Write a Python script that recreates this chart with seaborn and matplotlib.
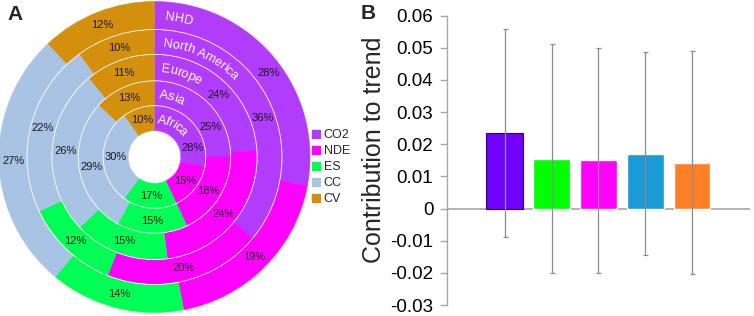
import numpy as np
import pandas as pd
import matplotlib
matplotlib.use('Agg')
import matplotlib.pyplot as plt
import seaborn as sns
from matplotlib.patches import Circle, Patch
from matplotlib.font_manager import FontProperties

# ---- Panel A: share of each driver (%), rings from inside out
regions = ['Africa', 'Asia', 'Europe', 'North America', 'NHD']
drivers = ['CO2', 'NDE', 'ES', 'CC', 'CV']
africa = [28, 15, 17, 30, 10]
asia = [25, 18, 15, 29, 13]
europe = [24, 24, 15, 26, 11]
north_america = [36, 20, 12, 22, 10]
nhd = [28, 19, 14, 27, 12]
donut_colors = ['#B23CFC', '#FF00FF', '#00FF55', '#A9C3E5', '#D4900C']

# ---- Panel B: contribution to trend with error bars
trend_names = ['CO2', 'ES', 'NDE', 'CC', 'CV']
trend_vals = [0.0235, 0.0155, 0.0150, 0.0171, 0.0142]
trend_err = [0.0324, 0.0356, 0.0349, 0.0315, 0.0347]
bar_colors = ['#7000FF', '#00FF00', '#FF00FF', '#1A9AD6', '#FF7F27']

sns.set_theme(style='white')
plt.rcParams['font.family'] = ['Liberation Sans', 'DejaVu Sans']

W, H = 754, 316
fig = plt.figure(figsize=(W / 100, H / 100), dpi=100)

# donut geometry in pixels
cx, cy, R = 154.5, 157, 155.5
ax1 = fig.add_axes([(cx - R) / W, (H - cy - R) / H, 2 * R / W, 2 * R / H])
radii = [0.17, 0.33, 0.49, 0.66, 0.82, 1.0]
rings = [africa, asia, europe, north_america, nhd]

for i, vals in enumerate(rings):
    wedges, _ = ax1.pie(vals, radius=radii[i + 1], colors=donut_colors,
                        startangle=90, counterclock=False,
                        wedgeprops=dict(width=radii[i + 1] - radii[i], linewidth=0.4))
    for w in wedges:
        w.set_edgecolor(w.get_facecolor())

for r in radii[1:-1]:
    ax1.add_patch(Circle((0, 0), r, fill=False, ec='white', lw=0.6, zorder=3))

ax1.set_xlim(-1, 1)
ax1.set_ylim(-1, 1)
ax1.axis('off')

# percentage labels
co2_frac = [0.76, 0.69, 0.53, 0.54, 0.53]
for i, vals in enumerate(rings):
    rm = (radii[i] + radii[i + 1]) / 2
    cum = 0
    for j, v in enumerate(vals):
        frac = co2_frac[i] if j == 0 else 0.5
        a = np.deg2rad(3.6 * (cum + frac * v))
        ax1.text(rm * np.sin(a), rm * np.cos(a), f'{v}%', fontsize=8,
                 color='#1a1a1a', ha='center', va='center', zorder=4)
        cum += v

# curved white ring names
renderer = fig.canvas.get_renderer()
fp = FontProperties(family='Liberation Sans', size=9.3)
em = 9.3 * 100 / 72


def text_w(s):
    return renderer.get_text_width_height_descent(s, fp, ismath=False)[0]


start = np.deg2rad(4.5)
for i, name in enumerate(regions):
    rm_px = (radii[i] + radii[i + 1]) / 2 * R
    rb = (rm_px - 0.36 * em) / R
    for k, ch in enumerate(name):
        if ch == ' ':
            continue
        s = text_w(name[:k + 1]) - text_w(ch) / 2
        if ' ' in name[:k]:
            s += 0.1 * em
        a = start + s / rm_px
        ax1.text(rb * np.sin(a), rb * np.cos(a), ch, fontproperties=fp,
                 color='white', ha='center', va='baseline',
                 rotation=-np.rad2deg(a), rotation_mode='anchor', zorder=4)

handles = [Patch(color=c, label=d) for c, d in zip(donut_colors, drivers)]
fig.legend(handles=handles, loc='upper left', bbox_to_anchor=(312 / W, (H - 129) / H),
           frameon=False, fontsize=9, handlelength=0.6, handleheight=0.6,
           handletextpad=0.35, labelspacing=0.33, borderpad=0, borderaxespad=0)

# ---- Panel B
ax2 = fig.add_axes([446.5 / W, (H - 305) / H, (750 - 446.5) / W, (305 - 15.7) / H])
df = pd.DataFrame({'driver': trend_names, 'value': trend_vals, 'err': trend_err})
sns.barplot(data=df, x='driver', y='value', hue='driver', palette=bar_colors,
            width=0.79, saturation=1, legend=False, ax=ax2, zorder=2)
ax2.patches[0].set_edgecolor('#2a0070')
ax2.patches[0].set_linewidth(0.8)
ax2.errorbar(np.arange(len(df)), df['value'], yerr=df['err'], fmt='none',
             ecolor='#8c8c8c', elinewidth=0.9, capsize=1.8, capthick=0.9, zorder=3)
ax2.axhline(0, color='#a6a6a6', lw=1.2, zorder=1)

ax2.set_xlim(-1.25, 5.24)
ax2.set_ylim(-0.03, 0.06)
yt = np.round(np.arange(-0.03, 0.0601, 0.01), 2)
ax2.set_yticks(yt)
ax2.set_yticklabels(['0' if v == 0 else f'{v:.2f}' for v in yt])
ax2.set_xticks([])
ax2.set_xlabel('')
ax2.set_ylabel('')
for sp in ['top', 'right', 'bottom']:
    ax2.spines[sp].set_visible(False)
ax2.spines['left'].set_color('#a6a6a6')
ax2.spines['left'].set_linewidth(1)
ax2.tick_params(axis='y', left=True, length=5, width=1, color='#a6a6a6',
                labelsize=13.5, pad=4.5, labelcolor='black')

fig.text(374 / W, (H - 150) / H, 'Contribution to trend', rotation=90,
         ha='center', va='center', fontsize=18)
fig.text(7 / W, 1 - 5 / H, 'A', fontsize=15, fontweight='bold', va='top')
fig.text(361 / W, 1 - 4 / H, 'B', fontsize=15, fontweight='bold', va='top')

fig.savefig('out.png', dpi=100)
